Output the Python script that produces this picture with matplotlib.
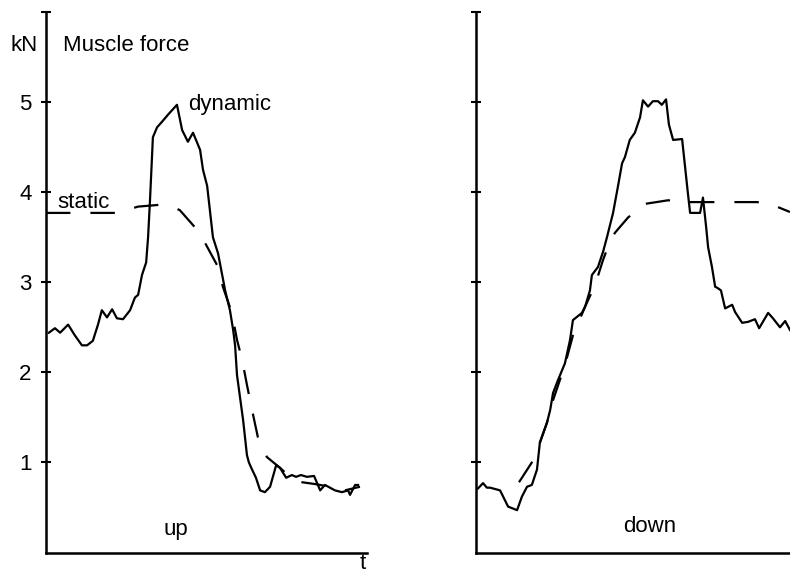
import matplotlib.pyplot as plt
import numpy as np

plt.rcParams['font.family'] = ['Liberation Sans', 'DejaVu Sans']

## time in arbitrary units (0..100 across each panel), force in kN
upDynT = [0.9, 2.8, 4.4, 6.9, 9.0, 11.2, 12.8, 14.6, 16.2, 17.4, 19.0, 20.6, 22.1, 24.0,
          26.2, 27.7, 28.7, 29.9, 31.2, 31.8, 32.4, 33.3, 34.6, 36.1, 38.0, 40.8, 42.4,
          44.2, 45.8, 48.0, 48.9, 50.2, 52.0, 53.6, 55.8, 57.3, 58.3, 58.9, 59.5, 61.4,
          62.6, 63.2, 64.2, 65.4, 66.7, 68.2, 69.8, 71.7, 72.9, 74.8, 76.6, 77.9, 79.4,
          81.3, 83.5, 85.4, 86.9, 90.0, 92.2, 94.1, 94.7, 96.3, 97.2]
upDynF = [2.44, 2.49, 2.44, 2.53, 2.41, 2.30, 2.30, 2.35, 2.53, 2.69, 2.61, 2.70, 2.60, 2.59,
          2.69, 2.83, 2.86, 3.08, 3.22, 3.50, 3.91, 4.61, 4.72, 4.78, 4.86, 4.97, 4.69,
          4.56, 4.66, 4.47, 4.25, 4.07, 3.50, 3.32, 2.91, 2.69, 2.47, 2.30, 1.97, 1.47,
          1.08, 1.00, 0.92, 0.83, 0.69, 0.67, 0.73, 0.97, 0.94, 0.83, 0.86, 0.84, 0.86,
          0.84, 0.85, 0.69, 0.75, 0.69, 0.67, 0.69, 0.64, 0.75, 0.75]

upStatT = [0, 22.1, 28.7, 35.5, 38.6, 41.7, 46.4, 49.5, 53.6, 55.1, 57.9, 59.5, 61.1, 62.6,
           64.2, 66.0, 68.8, 72.9, 76.0, 79.8, 83.8, 88.5, 93.1, 97.8]
upStatF = [3.77, 3.77, 3.84, 3.86, 3.85, 3.80, 3.61, 3.44, 3.17, 2.95, 2.66, 2.36, 2.14, 1.86,
           1.58, 1.28, 1.06, 0.94, 0.84, 0.78, 0.76, 0.73, 0.69, 0.73]

downDynT = [0.6, 2.2, 3.4, 4.4, 7.5, 10.0, 12.8, 14.3, 15.9, 17.4, 19.0, 19.9, 22.1, 23.1,
            24.0, 25.5, 27.7, 29.3, 30.2, 33.0, 34.0, 35.5, 36.1, 38.0, 39.6, 40.8, 42.7,
            44.2, 45.5, 46.4, 47.9, 49.5, 51.1, 52.0, 53.6, 55.1, 56.7, 57.9, 59.2, 60.1,
            61.4, 64.2, 64.8, 66.0, 66.7, 68.2, 69.8, 70.7, 71.7, 72.3, 73.5, 74.5, 75.1,
            76.3, 77.6, 79.8, 80.7, 82.9, 84.7, 86.9, 88.2, 91.0, 92.5, 94.7, 96.3, 97.8]
downDynF = [0.71, 0.77, 0.72, 0.72, 0.69, 0.51, 0.47, 0.62, 0.73, 0.75, 0.92, 1.22, 1.44, 1.58,
            1.77, 1.91, 2.10, 2.36, 2.58, 2.66, 2.73, 2.91, 3.08, 3.17, 3.34, 3.50, 3.77,
            4.06, 4.32, 4.39, 4.58, 4.66, 4.83, 5.02, 4.95, 5.01, 5.01, 4.97, 5.03, 4.75,
            4.58, 4.59, 4.39, 3.99, 3.77, 3.77, 3.77, 3.94, 3.61, 3.39, 3.17, 2.95, 2.94,
            2.91, 2.71, 2.75, 2.67, 2.55, 2.56, 2.59, 2.49, 2.66, 2.60, 2.50, 2.57, 2.47]

downStatT = [13.4, 17.4, 19.9, 22.1, 24.0, 27.7, 30.2, 34.0, 37.1, 39.6, 41.7, 43.3, 47.4,
             52.6, 59.8, 66.7, 73.8, 87.5, 91.6, 97.8]
downStatF = [0.78, 1.00, 1.22, 1.44, 1.69, 2.08, 2.41, 2.73, 2.97, 3.25, 3.45, 3.55, 3.72,
             3.87, 3.91, 3.89, 3.89, 3.89, 3.87, 3.78]

yTicks = [1, 2, 3, 4, 5, 6]
yTickLabels = ['1', '2', '3', '4', '5', '']

fsize = 16
dashes = (0, (11, 9))

def style_axis(ax, showLabels=True):
    """ Open frame with a left axis and crossing ticks """
    for side in ['top', 'right']:
        ax.spines[side].set_visible(False)
    for side in ['left', 'bottom']:
        ax.spines[side].set_linewidth(1.8)
    ax.set_xlim(0, 100)
    ax.set_ylim(0, 6)
    ax.set_xticks([])
    ax.set_yticks(yTicks)
    if showLabels:
        ax.set_yticklabels(yTickLabels, fontsize=fsize)
    else:
        ax.set_yticklabels([])
    ax.tick_params(axis='y', direction='inout', length=7, width=1.5, pad=7)
    ax.patch.set_alpha(0)

fig = plt.figure(figsize=(7.9, 5.75), dpi=100)
axL = fig.add_axes([0.0582, 0.0391, 0.4064, 0.9400])
axR = fig.add_axes([0.6025, 0.0391, 0.4064, 0.9400])

style_axis(axL)
axL.plot(upDynT, upDynF, color='black', lw=1.6)
axL.plot(upStatT, upStatF, color='black', lw=1.6, linestyle=dashes)
axL.text(-2.5, 5.63, 'kN', fontsize=fsize, ha='right', va='center')
axL.text(5.3, 5.63, 'Muscle force', fontsize=fsize, ha='left', va='center')
axL.text(44.2, 4.97, 'dynamic', fontsize=fsize, ha='left', va='center')
axL.text(3.4, 3.88, 'static', fontsize=fsize, ha='left', va='center')
axL.text(40.5, 0.26, 'up', fontsize=fsize, ha='center', va='center')
axL.text(98.8, -0.12, 't', fontsize=fsize, ha='center', va='center')

style_axis(axR, showLabels=False)
axR.plot(downDynT, downDynF, color='black', lw=1.6)
axR.plot(downStatT, downStatF, color='black', lw=1.6, linestyle=dashes)
axR.text(54.2, 0.29, 'down', fontsize=fsize, ha='center', va='center')

fig.savefig('out.png', dpi=100)
